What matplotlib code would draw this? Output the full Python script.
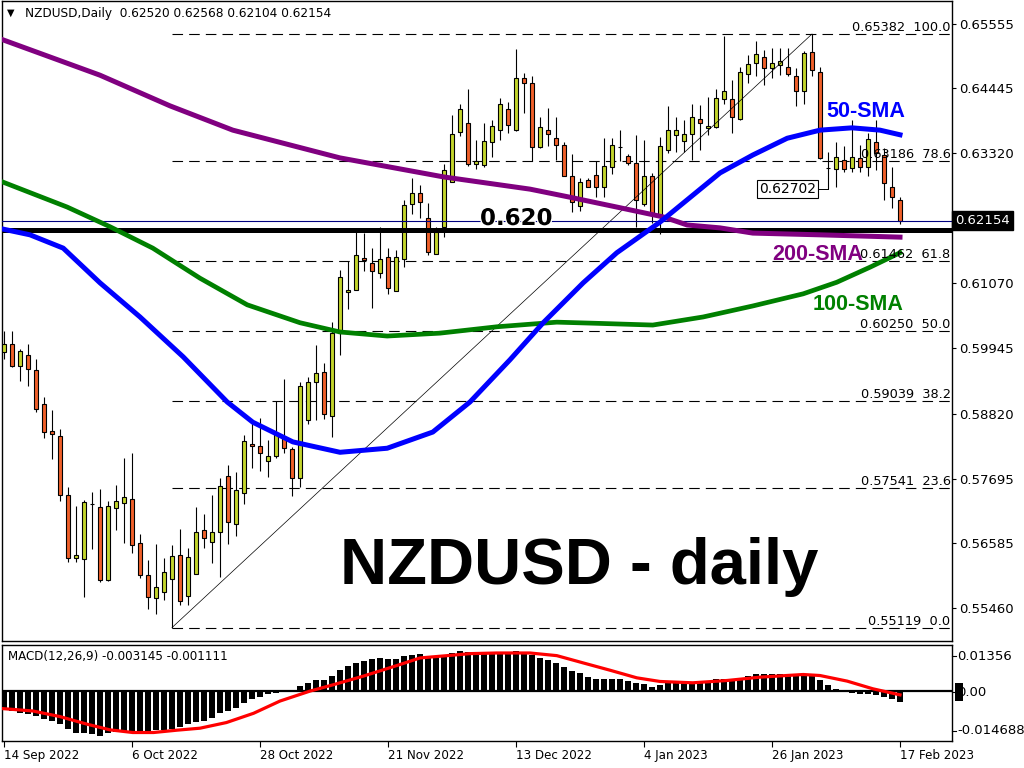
import matplotlib
matplotlib.use('Agg')
import matplotlib.pyplot as plt
import numpy as np
from matplotlib import patheffects as pe
from matplotlib import transforms as mtrans
from matplotlib.patches import Rectangle
from matplotlib.lines import Line2D

# ---------------- data ----------------
opens = [0.5989, 0.6002, 0.5964, 0.5984, 0.5957, 0.5898, 0.5851, 0.5844, 0.5742, 0.5632,
         0.5630, 0.5726, 0.5720, 0.5595, 0.5718, 0.5727, 0.5734, 0.5659, 0.5602, 0.5563,
         0.5573, 0.5596, 0.5637, 0.5566, 0.5605, 0.5680, 0.5660, 0.5677, 0.5774, 0.5691,
         0.5744, 0.5829, 0.5826, 0.5800, 0.5808, 0.5841, 0.5820, 0.5771, 0.5870, 0.5936,
         0.5953, 0.5877, 0.6021, 0.6092, 0.6096, 0.6151, 0.6142, 0.6125, 0.6152, 0.6094,
         0.6149, 0.6244, 0.6263, 0.6220, 0.6158, 0.6205, 0.6283, 0.6368, 0.6384, 0.6314,
         0.6312, 0.6351, 0.6372, 0.6408, 0.6373, 0.6463, 0.6453, 0.6342, 0.6372, 0.6358,
         0.6346, 0.6293, 0.6240, 0.6285, 0.6294, 0.6274, 0.6309, 0.6342, 0.6327, 0.6315,
         0.6244, 0.6293, 0.6225, 0.6338, 0.6364, 0.6354, 0.6365, 0.6392, 0.6375, 0.6377,
         0.6425, 0.6426, 0.6392, 0.6469, 0.6488, 0.6499, 0.6479, 0.6485, 0.6481, 0.6466,
         0.6440, 0.6507, 0.6472, 0.6307, 0.6305, 0.6321, 0.6306, 0.6323, 0.6309, 0.6352,
         0.6329, 0.6274, 0.62520]
highs = [0.6025, 0.6025, 0.5994, 0.6002, 0.5976, 0.5911, 0.5888, 0.5856, 0.5755, 0.5722,
         0.5733, 0.5746, 0.5752, 0.5731, 0.5759, 0.5805, 0.5814, 0.5674, 0.5629, 0.5657,
         0.5632, 0.5655, 0.5682, 0.5649, 0.5720, 0.5708, 0.5741, 0.5770, 0.5793, 0.5781,
         0.5845, 0.5866, 0.5874, 0.5836, 0.5903, 0.5941, 0.5825, 0.5937, 0.5946, 0.6001,
         0.5969, 0.6041, 0.6130, 0.6146, 0.6197, 0.6194, 0.6168, 0.6205, 0.6168, 0.6165,
         0.6251, 0.6289, 0.6277, 0.6246, 0.6205, 0.6314, 0.6399, 0.6417, 0.6443, 0.6355,
         0.6384, 0.6390, 0.6427, 0.6421, 0.6513, 0.6470, 0.6465, 0.6395, 0.6410, 0.6395,
         0.6352, 0.6331, 0.6289, 0.6289, 0.6319, 0.6358, 0.6359, 0.6372, 0.6330, 0.6364,
         0.6355, 0.6298, 0.6361, 0.6413, 0.6395, 0.6390, 0.6418, 0.6416, 0.6430, 0.6444,
         0.6534, 0.6459, 0.6482, 0.6502, 0.6527, 0.6511, 0.6514, 0.6514, 0.6514, 0.6479,
         0.6508, 0.65382, 0.6482, 0.6335, 0.6352, 0.6344, 0.6390, 0.6346, 0.6367, 0.6390,
         0.6341, 0.6309, 0.62568]
lows = [0.5976, 0.5963, 0.5939, 0.5929, 0.5885, 0.5840, 0.5804, 0.5730, 0.5625, 0.5625,
        0.5564, 0.5647, 0.5590, 0.5593, 0.5680, 0.5659, 0.5640, 0.5597, 0.5544, 0.5535,
        0.5559, 0.55119, 0.5551, 0.5551, 0.5604, 0.5650, 0.5623, 0.5599, 0.5656, 0.5671,
        0.5725, 0.5787, 0.5782, 0.5773, 0.5805, 0.5813, 0.5740, 0.5755, 0.5864, 0.5871,
        0.5872, 0.5841, 0.5983, 0.6062, 0.6095, 0.6128, 0.6064, 0.6116, 0.6088, 0.6094,
        0.6135, 0.6227, 0.6220, 0.6156, 0.6158, 0.6188, 0.6283, 0.6362, 0.6310, 0.6305,
        0.6309, 0.6326, 0.6355, 0.6367, 0.6370, 0.6401, 0.6319, 0.6341, 0.6344, 0.6320,
        0.6292, 0.6230, 0.6233, 0.6274, 0.6257, 0.6257, 0.6297, 0.6318, 0.6312, 0.6205,
        0.6240, 0.6212, 0.6193, 0.6332, 0.6335, 0.6335, 0.6321, 0.6338, 0.6364, 0.6375,
        0.6418, 0.6367, 0.6390, 0.6453, 0.6465, 0.6450, 0.6462, 0.6468, 0.6465, 0.6414,
        0.6418, 0.6465, 0.6322, 0.62702, 0.6274, 0.6300, 0.6300, 0.6300, 0.6292, 0.6303,
        0.6251, 0.6237, 0.62104]
closes = [0.6002, 0.5964, 0.5990, 0.5959, 0.5889, 0.5850, 0.5846, 0.5742, 0.5632, 0.5638,
          0.5729, 0.5725, 0.5594, 0.5722, 0.5730, 0.5737, 0.5654, 0.5602, 0.5565, 0.5582,
          0.5608, 0.5635, 0.5558, 0.5634, 0.5678, 0.5666, 0.5677, 0.5756, 0.5694, 0.5750,
          0.5834, 0.5826, 0.5813, 0.5808, 0.5847, 0.5822, 0.5771, 0.5930, 0.5936, 0.5952,
          0.5881, 0.6021, 0.6118, 0.6096, 0.6156, 0.6147, 0.6128, 0.6150, 0.6099, 0.6152,
          0.6242, 0.6263, 0.6248, 0.6161, 0.6196, 0.6303, 0.6365, 0.6408, 0.6313, 0.6318,
          0.6353, 0.6379, 0.6417, 0.6381, 0.6463, 0.6453, 0.6342, 0.6378, 0.6365, 0.6346,
          0.6293, 0.6248, 0.6282, 0.6274, 0.6273, 0.6310, 0.6346, 0.6342, 0.6315, 0.6252,
          0.6293, 0.6228, 0.6345, 0.6372, 0.6372, 0.6365, 0.6394, 0.6384, 0.6380, 0.6427,
          0.6440, 0.6394, 0.6472, 0.6486, 0.6504, 0.6479, 0.6488, 0.6492, 0.6469, 0.6440,
          0.6505, 0.6476, 0.6323, 0.6306, 0.6325, 0.6305, 0.6326, 0.6309, 0.6356, 0.6333,
          0.6281, 0.6256, 0.62154]

# moving averages, read at sample bars
sma50_bar = [-0.5, 3.25, 7.4, 12, 17, 22.4, 27.9, 31.1, 36.1, 42, 47.9, 53.6, 58.25, 63.25,
             67.4, 72.4, 76.6, 82, 89.5, 93.6, 97.9, 102, 106, 109.5, 112]
sma50_val = [0.6202, 0.6191, 0.6168, 0.6108, 0.6049, 0.5980, 0.5902, 0.5867, 0.5833, 0.5815,
             0.5822, 0.5850, 0.5902, 0.5975, 0.6039, 0.6108, 0.6160, 0.6213, 0.6298, 0.6329,
             0.6358, 0.6372, 0.6376, 0.6372, 0.6364]
sma100_bar = [-0.1, 7.9, 13.25, 18.6, 24.5, 30.4, 37, 42, 47.9, 54.5, 61.6, 69.1, 74.1, 81.1,
              87.4, 93.6, 99.9, 104.1, 108.25, 112]
sma100_val = [0.6282, 0.6239, 0.6205, 0.6168, 0.6116, 0.6070, 0.6039, 0.6023, 0.6016, 0.6021,
              0.6032, 0.6040, 0.6038, 0.6035, 0.6049, 0.6068, 0.6089, 0.6109, 0.6135, 0.6160]
sma200_bar = [-0.1, 12, 20.75, 28.6, 42, 55, 65.75, 70.75, 76.6, 82.4, 85.4, 89.5, 93.6, 102, 112]
sma200_val = [0.6528, 0.6467, 0.6414, 0.6372, 0.6324, 0.6291, 0.6270, 0.6256, 0.6239, 0.6222,
              0.6208, 0.6203, 0.6194, 0.6191, 0.6187]

# Fibonacci retracement
fib_levels = [0.65382, 0.63186, 0.61462, 0.60250, 0.59039, 0.57541, 0.55119]
fib_pcts = ['100.0', '78.6', '61.8', '50.0', '38.2', '23.6', '0.0']
fib_low_bar, fib_high_bar = 21, 101

support = 0.620
last_price = 0.62154
low_label = 0.62702
low_label_bar = 103

price_ticks = [0.65555, 0.64445, 0.63320, 0.61070, 0.59945, 0.58820, 0.57695, 0.56585, 0.55460]

# MACD histogram (main line) and signal
macd_hist = [-0.00488, -0.00585, -0.00634, -0.00683, -0.00731, -0.00809, -0.00878, -0.00975,
             -0.01121, -0.01248, -0.01248, -0.01268, -0.01316, -0.01248, -0.01199, -0.01170,
             -0.01170, -0.01170, -0.01170, -0.01141, -0.01141, -0.01121, -0.01043, -0.00975,
             -0.00907, -0.00878, -0.00780, -0.00653, -0.00585, -0.00488, -0.00361, -0.00244,
             -0.00166, -0.00098, -0.00049, 0.00029, 0.00029, 0.00146, 0.00244, 0.00322,
             0.00322, 0.00458, 0.00634, 0.00731, 0.00829, 0.00897, 0.00956, 0.00975, 0.00946,
             0.00946, 0.01024, 0.01073, 0.01102, 0.01043, 0.01043, 0.01043, 0.01121, 0.01190,
             0.01151, 0.01102, 0.01102, 0.01121, 0.01141, 0.01141, 0.01170, 0.01121, 0.01053,
             0.00975, 0.00926, 0.00829, 0.00712, 0.00585, 0.00536, 0.00419, 0.00361, 0.00341,
             0.00341, 0.00341, 0.00293, 0.00224, 0.00195, 0.00127, 0.00166, 0.00224, 0.00224,
             0.00244, 0.00273, 0.00273, 0.00302, 0.00341, 0.00361, 0.00361, 0.00390, 0.00458,
             0.00497, 0.00497, 0.00517, 0.00517, 0.00478, 0.00458, 0.00458, 0.00458, 0.00322,
             0.00166, 0.00068, 0.00010, -0.00049, -0.00098, -0.00098, -0.00127, -0.00166,
             -0.00224, -0.003145]
signal_bar = [-0.1, 3.6, 7, 10.4, 13.25, 16.1, 18.7, 21.6, 24.5, 27.8, 31.2, 34.5, 38.25, 41,
              44.9, 49.1, 52, 55.4, 58.25, 61.6, 65.75, 69.1, 72.4, 75.75, 79.1, 82, 86.1,
              90.4, 94.5, 99.9, 102, 105.4, 108.6, 112]
signal_val = [-0.00517, -0.00585, -0.00751, -0.00975, -0.01141, -0.01219, -0.01219, -0.01151,
              -0.01092, -0.00926, -0.00653, -0.00293, 0.0, 0.00176, 0.00439, 0.00751, 0.00975,
              0.01043, 0.01102, 0.01121, 0.01121, 0.01043, 0.00829, 0.00614, 0.00390, 0.00283,
              0.00244, 0.00312, 0.00410, 0.00488, 0.00458, 0.00293, 0.00068, -0.001111]
macd_max, macd_min = 0.01356, -0.014688

date_bars = [0, 16, 32, 48, 64, 80, 96, 112]
date_labels = ['14 Sep 2022', '6 Oct 2022', '28 Oct 2022', '21 Nov 2022',
               '13 Dec 2022', '4 Jan 2023', '26 Jan 2023', '17 Feb 2023']

# ---------------- styling ----------------
BULL = '#c3d52c'
BEAR = '#f0602a'
W, H = 1024, 768
AXFONT = 'DejaVu Sans'
BOLDFONT = 'Liberation Sans'


def fx(x):
    return x / W


def fy(y):
    return 1 - y / H


fig = plt.figure(figsize=(10.24, 7.68), dpi=100)
fig.patch.set_facecolor('white')
ax = fig.add_axes([fx(2), fy(641), 950 / W, 640 / H])
mx = fig.add_axes([fx(2), fy(741), 950 / W, 96 / H])

for a in (ax, mx):
    for s in a.spines.values():
        s.set_linewidth(1.0)
        s.set_color('black')
    a.set_xlim(-0.25, 118.5)

ax.set_ylim(0.54887, 0.65953)

o = np.array(opens); h = np.array(highs); l = np.array(lows); c = np.array(closes)
idx = np.arange(len(o))
bull = c >= o
cols = np.where(bull, BULL, BEAR)

# candles
ax.vlines(idx, l, h, color='black', lw=0.8, zorder=2)
ax.bar(idx, np.abs(c - o), bottom=np.minimum(o, c), width=0.58, color=cols,
       edgecolor='black', linewidth=0.8, zorder=3)

# fib
ax.plot([fib_low_bar, fib_high_bar], [fib_levels[-1], fib_levels[0]], color='black', lw=0.5, zorder=4)
blend = mtrans.blended_transform_factory(ax.transAxes, ax.transData)
for lv, pc in zip(fib_levels, fib_pcts):
    ax.hlines(lv, fib_low_bar, 118.5, colors='black', linestyles=(0, (9.5, 5.5)), lw=0.8, zorder=1)
    ax.text(0.9985, lv, f'{lv:.5f}  {pc}', transform=blend, ha='right', va='bottom',
            fontsize=9.3, family=AXFONT, color='black', zorder=6)

# horizontal lines
ax.axhline(last_price, color='#000080', lw=0.8, zorder=4)
ax.axhline(support, color='black', lw=3.6, zorder=5)

# moving averages
ax.plot(sma200_bar, sma200_val, color='#800080', lw=3.6, zorder=5, solid_joinstyle='round')
ax.plot(sma100_bar, sma100_val, color='#008000', lw=3.4, zorder=5, solid_joinstyle='round')
ax.plot(sma50_bar, sma50_val, color='#0000ff', lw=3.6, zorder=5, solid_joinstyle='round')

# low label
ax.plot([low_label_bar - 1.4, low_label_bar], [low_label, low_label], color='black', lw=0.7, zorder=6)
ax.text(low_label_bar - 1.45, low_label, f'{low_label:.5f}', ha='right', va='center', fontsize=10,
        family=AXFONT, zorder=7,
        bbox=dict(boxstyle='square,pad=0.15', fc='white', ec='black', lw=0.8))

# price axis
ax.set_xticks([])
ax.yaxis.tick_right()
ax.set_yticks(price_ticks)
ax.set_yticklabels([f'{t:.5f}' for t in price_ticks], family=AXFONT)
ax.tick_params(axis='y', right=True, left=False, length=3, width=0.8, pad=1.8, labelsize=9.5)

ax.text(1.0032, last_price, f'{last_price:.5f}', transform=blend, ha='left', va='center',
        color='white', fontsize=9.5, family=AXFONT, zorder=10, clip_on=False,
        bbox=dict(boxstyle='square,pad=0.22', fc='black', ec='black'))

# annotations
fig.text(fx(480), fy(225), '0.620', fontsize=16.5, fontweight='bold', family=AXFONT,
         color='black', va='baseline', ha='left', zorder=10,
         path_effects=[pe.withStroke(linewidth=2, foreground='white')])
fig.text(fx(826), fy(117), '50-SMA', fontsize=15.5, fontweight='bold', family=BOLDFONT,
         color='#0000ff', va='baseline', ha='left')
fig.text(fx(772), fy(260), '200-SMA', fontsize=15.5, fontweight='bold', family=BOLDFONT,
         color='#800080', va='baseline', ha='left')
fig.text(fx(813), fy(310), '100-SMA', fontsize=15.5, fontweight='bold', family=BOLDFONT,
         color='#008000', va='baseline', ha='left')
fig.text(fx(340), fy(584), 'NZDUSD - daily', fontsize=47, fontweight='bold', family=BOLDFONT,
         color='black', va='baseline', ha='left')

fig.text(fx(7), fy(13), '\u25bc', fontsize=7, family=AXFONT, va='center', ha='left')
fig.text(fx(25), fy(13), f'NZDUSD,Daily  {opens[-1]:.5f} {highs[-1]:.5f} {lows[-1]:.5f} {closes[-1]:.5f}',
         fontsize=8.7, family=AXFONT, va='center', ha='left')

# ---------------- MACD ----------------
mx.set_ylim(macd_min, macd_max)
mx.bar(idx, macd_hist, width=0.8, color='black', zorder=2)
mx.axhline(0, color='black', lw=1.6, zorder=3)
mx.plot(signal_bar, signal_val, color='#ff0000', lw=2.3, zorder=4, solid_joinstyle='round')
mx.set_yticks([])
mx.set_xticks(date_bars)
mx.set_xticklabels(date_labels, family=AXFONT)
for lab in mx.get_xticklabels():
    lab.set_ha('left')
mx.tick_params(axis='x', length=4, width=0.8, pad=1.5, labelsize=8.6)

mx.text(0.006, 0.88, f'MACD(12,26,9) {macd_hist[-1]:.6f} {signal_val[-1]:.6f}', transform=mx.transAxes,
        fontsize=8.6, family=AXFONT, va='center', ha='left')

# MACD right-hand labels
fig.patches.append(Rectangle((fx(955), fy(701)), 8 / W, 18 / H, transform=fig.transFigure,
                             fc='black', ec='none'))
for ypix, txt in [(656, f'{macd_max:.5f}'), (692, '0.00'), (731, f'{macd_min:.6f}')]:
    fig.lines.append(Line2D([fx(952), fx(956)], [fy(ypix), fy(ypix)], transform=fig.transFigure,
                            color='black', lw=0.8))
    fig.text(fx(957), fy(ypix), txt, fontsize=9.5, family=AXFONT, va='center', ha='left')

fig.savefig('out.png', dpi=100)
